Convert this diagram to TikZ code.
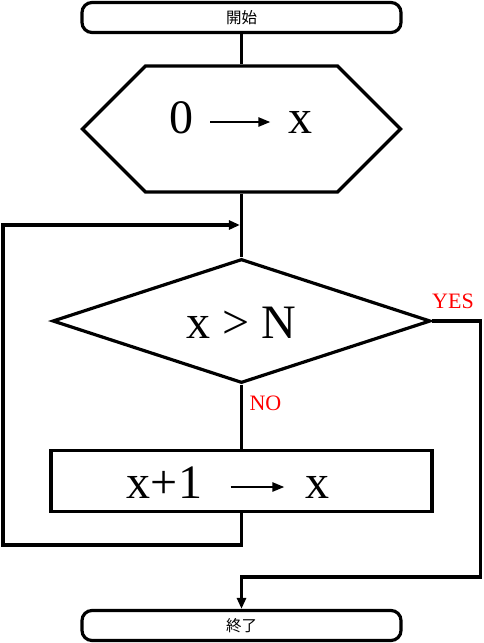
\documentclass[tikz,border=0pt]{standalone}
\usepackage{fontspec}
\setmainfont{Liberation Serif}
\newfontfamily\jpfont{Noto Sans CJK JP}
\usetikzlibrary{arrows.meta,shapes.geometric,shapes.symbols,positioning}
\definecolor{labelred}{RGB}{255,0,0}
\newcommand{\flowbig}{\fontsize{48}{50}\selectfont}

\begin{document}
\begin{tikzpicture}[x=1pt,y=-1pt,
    line width=3.2pt,
    term/.style={draw,rounded corners=10pt,minimum width=319pt,minimum height=30pt,
                 inner sep=0pt,font=\jpfont\fontsize{15.5}{16}\selectfont},
    prep/.style={draw,signal,signal to=east and west,signal pointer angle=90,
                 minimum width=318pt,minimum height=126pt,inner sep=0pt},
    decision/.style={draw,diamond,aspect=3,minimum width=378pt,minimum height=124pt,
                 inner sep=0pt,font=\flowbig,text height=34pt,text depth=0pt},
    process/.style={draw,rectangle,minimum width=381pt,minimum height=61pt,inner sep=0pt},
    val/.style={font=\flowbig,text height=22pt,text depth=0pt,inner sep=0pt},
    branch/.style={font=\fontsize{22}{24}\selectfont,text=labelred,inner sep=0pt},
    flow/.style={-{Triangle[length=11pt,width=9pt]}},
    assign/.style={-{Triangle[length=12pt,width=9pt]},line width=2.4pt}
]
\useasboundingbox (0,0) rectangle (483,643);
\node[term] (start) at (241.5,17.5) {開始};
\node[prep] (init) at (241.5,129) {};
\node[val] (zero) at (181.5,122) {0};
\node[val] (xa) at (300,122) {x};
\node[decision] (cond) at (241.5,321) {x > N};
\node[process] (incr) at (241.5,481) {};
\node[val] (sum) at (164.5,487) {x+1};
\node[val] (xb) at (317,487) {x};
\node[term] (stop) at (241.5,625.5) {終了};
\node[branch] (yes) at (453,301) {YES};
\node[branch] (no) at (265.5,403) {NO};
\coordinate (merge) at (241.5,225);
\coordinate (loopend) at (3,545);
\coordinate (yesend) at (480.5,577);
\draw (start) -- (init);
\draw (init) -- (cond);
\draw (cond) -- (incr);
\draw[flow,shorten >=1.6pt] (incr) |- (loopend) |- (merge);
\draw[flow] (cond.east) -| (yesend) -| (stop);
\draw[assign,shorten <=15pt,shorten >=16pt] (zero) -- (xa);
\draw[assign,shorten <=27pt,shorten >=19pt] (sum) -- (xb);
\end{tikzpicture}
\end{document}
